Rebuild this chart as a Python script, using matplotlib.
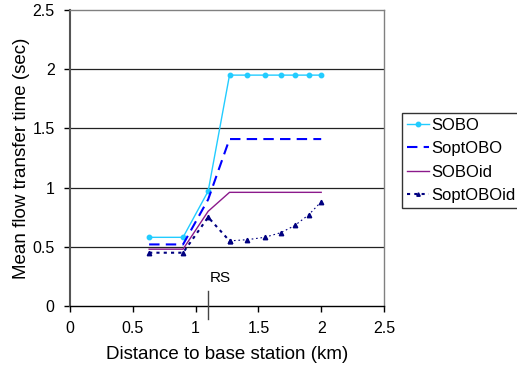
import matplotlib
matplotlib.use("Agg")
import matplotlib.pyplot as plt

plt.rcParams['font.family'] = ['Liberation Sans', 'DejaVu Sans']

distance = [0.63, 0.9, 1.1, 1.27, 1.41, 1.55, 1.68, 1.79, 1.9, 2.0]
sobo = [0.58, 0.58, 0.97, 1.95, 1.95, 1.95, 1.95, 1.95, 1.95, 1.95]
soptobo = [0.52, 0.52, 0.9, 1.41, 1.41, 1.41, 1.41, 1.41, 1.41, 1.41]
soboid = [0.48, 0.48, 0.8, 0.96, 0.96, 0.96, 0.96, 0.96, 0.96, 0.96]
soptoboid = [0.45, 0.45, 0.75, 0.55, 0.56, 0.58, 0.62, 0.68, 0.77, 0.88]

x_ticks = [0, 0.5, 1, 1.5, 2, 2.5]
x_tick_labels = ["0", "0.5", "1", "1.5", "2", "2.5"]
y_ticks = [0, 0.5, 1, 1.5, 2, 2.5]
y_tick_labels = ["0", "0.5", "1", "1.5", "2", "2.5"]
rs_distance = 1.1

fig = plt.figure(figsize=(5.17, 3.71), dpi=100)
ax = fig.add_axes([70 / 517, 65 / 371, 314 / 517, 296 / 371])

ax.set_xlim(0, 2.5)
ax.set_ylim(0, 2.5)

for yv in y_ticks[1:-1]:
    ax.axhline(yv, color='#222222', lw=0.9, zorder=1)

ax.plot(distance, sobo, color='#22CCFF', lw=1.0, marker='o', ms=3.2,
        label='SOBO', zorder=3)
ax.plot(distance, soptobo, color='#0000FF', lw=1.5, ls=(0, (5, 3)),
        label='SoptOBO', zorder=3)
ax.plot(distance, soboid, color='#8B1A8B', lw=1.0,
        label='SOBOid', zorder=3)
ax.plot(distance[3:], soptoboid[3:], color='#000080', lw=0.8, ls=(0, (1.5, 2.5)),
        marker='^', ms=3.2, zorder=3)
ax.plot(distance[:4], soptoboid[:4], color='#000080', lw=1.5, ls=(0, (1.5, 2)),
        marker='^', ms=3.2, zorder=3)
ax.plot([], [], color='#000080', lw=1.5, ls=(0, (1.5, 2)), marker='^', ms=2.5,
        label='SoptOBOid')

# RS marker below the curves
ax.plot([rs_distance, rs_distance], [-0.11, 0.13], color='#444444', lw=1.0,
        clip_on=False, zorder=4)
ax.text(rs_distance + 0.1, 0.235, "RS", ha='center', va='center', fontsize=11)

ax.set_xticks(x_ticks)
ax.set_xticklabels(x_tick_labels, fontsize=11.5)
ax.set_yticks(y_ticks)
ax.set_yticklabels(y_tick_labels, fontsize=11.5)
ax.tick_params(direction='out', length=4, width=1.0, color='black', pad=7)

for side in ['top', 'right']:
    ax.spines[side].set_color('#808080')
    ax.spines[side].set_linewidth(1.0)
ax.spines['left'].set_color('#555555')
ax.spines['left'].set_linewidth(1.5)
ax.spines['bottom'].set_color('black')
ax.spines['bottom'].set_linewidth(1.0)

ax.set_xlabel("Distance to base station (km)", fontsize=13.5, labelpad=7)
ax.set_ylabel("Mean flow transfer time (sec)", fontsize=13.5, labelpad=2)

leg = ax.legend(loc='upper left', bbox_to_anchor=(402 / 517, 258 / 371),
                bbox_transform=fig.transFigure, fontsize=12, frameon=True,
                fancybox=False, borderpad=0.3, handlelength=1.3, numpoints=1,
                handletextpad=0.15, labelspacing=0.5, borderaxespad=0)
leg.get_frame().set_edgecolor('black')
leg.get_frame().set_linewidth(1.0)

fig.savefig("out.png", dpi=100)
